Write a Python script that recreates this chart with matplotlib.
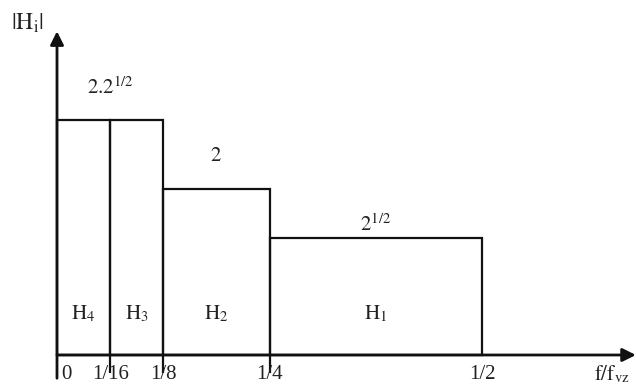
import matplotlib.pyplot as plt
import numpy as np

plt.rcParams['mathtext.fontset'] = 'stix'
plt.rcParams['font.family'] = 'Liberation Serif'

# band edges (normalised frequency) and gain of each sub-band
edges = [0, 1/16, 1/8, 1/4, 1/2]
edge_labels = ['0', '1/16', '1/8', '1/4', '1/2']
band_names = [r'$\mathrm{H}_4$', r'$\mathrm{H}_3$', r'$\mathrm{H}_2$', r'$\mathrm{H}_1$']
band_gain = [2*np.sqrt(2), 2*np.sqrt(2), 2, np.sqrt(2)]
level_spans = [(0, 1/8), (1/8, 1/4), (1/4, 1/2)]
level_gain = [2*np.sqrt(2), 2, np.sqrt(2)]
level_labels = [r'$2.2^{1/2}$', r'$2$', r'$2^{1/2}$']

fig = plt.figure(figsize=(6.36, 3.85), dpi=100)
ax = fig.add_axes([0, 0, 1, 1])
ax.set_xlim(-57/850, 579/850)
ax.set_ylim(-30/83, 355/83)
ax.axis('off')

lc = '#111111'
widths = np.diff(edges)
ax.bar(edges[:-1], band_gain, width=widths, align='edge',
       fill=False, edgecolor=lc, linewidth=1.6)

# little ticks below the axis
ax.vlines(edges[1:-1], -0.22, 0, color=lc, lw=1.6)

# axes with arrows
ax.annotate('', xy=(0.681, 0), xytext=(0, 0),
            arrowprops=dict(arrowstyle='-|>', lw=2, color=lc, mutation_scale=20,
                            shrinkA=0, shrinkB=0))
ax.annotate('', xy=(0, 3.90), xytext=(0, -0.28),
            arrowprops=dict(arrowstyle='-|>', lw=2, color=lc, mutation_scale=20,
                            shrinkA=0, shrinkB=0))

fs = 15
for (a, b), g, lab, off in zip(level_spans, level_gain, level_labels, [0.39, 0.39, 0.15]):
    ax.text((a + b) / 2, g + off, lab, ha='center', va='center', fontsize=fs, color='#222')

for x0, x1, name in zip(edges[:-1], edges[1:], band_names):
    ax.text((x0 + x1) / 2, 0.5, name, ha='center', va='center', fontsize=fs, color='#222')

for x, lab in zip(edges, edge_labels):
    if x == 0:
        ax.text(0.005, -0.24, lab, ha='left', va='center', fontsize=fs, color='#222')
    else:
        ax.text(x, -0.24, lab, ha='center', va='center', fontsize=fs, color='#222')

ax.text(0.653, -0.24, r'$\mathrm{f/f}_{\mathrm{vz}}$', ha='center', va='center',
        fontsize=fs, color='#222')
ax.text(-0.035, 4.0, r'$\mathrm{|H_i|}$', ha='center', va='center', fontsize=17, color='#222')

fig.savefig('out.png', dpi=100)
